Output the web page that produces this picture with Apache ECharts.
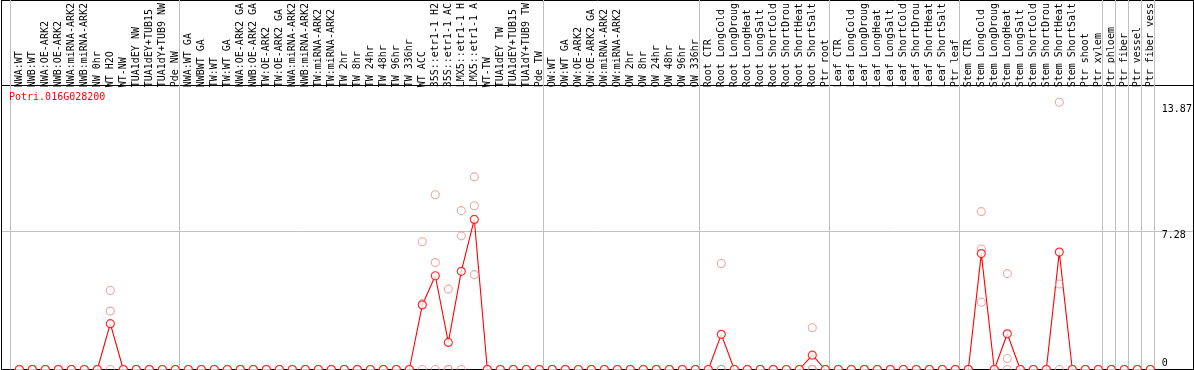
<!DOCTYPE html>
<html><head><meta charset="utf-8">
<script src="https://cdn.jsdelivr.net/npm/echarts@6/dist/echarts.min.js"></script>
<style>html,body{margin:0;padding:0;background:#fff;overflow:hidden}#c{width:1194px;height:370px}</style>
</head><body><div id="c"></div>
<script>
const geneName = 'Potri.016G028200';

const categories = [
  // group 1
  'NWA:WT','NWB:WT','NWA:OE-ARK2','NWB:OE-ARK2','NWA:miRNA-ARK2','NWB:miRNA-ARK2','NW 0hr','WT H2O','WT-NW','TUA1dEY NW','TUA1dEY+TUB15','TUA1dY+TUB9 NW','Pde NW',
  // group 2
  'NWA:WT GA','NWBWT GA','TW:WT','TW:WT GA','NWA:OE-ARK2 GA','NWB:OE-ARK2 GA','TW:OE-ARK2','TW:OE-ARK2 GA','NWA:miRNA-ARK2','NWB:miRNA-ARK2','TW:miRNA-ARK2','TW:miRNA-ARK2',
  'TW 2hr','TW 8hr','TW 24hr','TW 48hr','TW 96hr','TW 336hr','WT ACC','35S::etr1-1 H2','35S::etr1-1 AC','LMX5::etr1-1 H','LMX5::etr1-1 A','WT-TW','TUA1dEY TW','TUA1dEY+TUB15','TUA1dY+TUB9 TW','Pde TW',
  // group 3
  'OW:WT','OW:WT GA','OW:OE-ARK2','OW:OE-ARK2 GA','OW:miRNA-ARK2','OW:miRNA-ARK2','OW 2hr','OW 8hr','OW 24hr','OW 48hr','OW 96hr','OW 336hr',
  // group 4
  'Root CTR','Root LongCold','Root LongDroug','Root LongHeat','Root LongSalt','Root ShortCold','Root ShortDrou','Root ShortHeat','Root ShortSalt','Ptr root',
  // group 5
  'Leaf CTR','Leaf LongCold','Leaf LongDroug','Leaf LongHeat','Leaf LongSalt','Leaf ShortCold','Leaf ShortDrou','Leaf ShortHeat','Leaf ShortSalt','Ptr leaf',
  // group 6
  'Stem CTR','Stem LongCold','Stem LongDroug','Stem LongHeat','Stem LongSalt','Stem ShortCold','Stem ShortDrou','Stem ShortHeat','Stem ShortSalt','Ptr shoot','Ptr xylem',
  // singles
  'Ptr phloem','Ptr fiber','Ptr vessel','Ptr fiber vess'
];

const meanValues = [
  0,0,0,0,0,0,0,2.40,0,0,0,0,0,
  0,0,0,0,0,0,0,0,0,0,0,0,0,0,0,0,0,0,3.38,4.91,1.42,5.14,7.86,0,0,0,0,0,
  0,0,0,0,0,0,0,0,0,0,0,0,
  0,1.84,0,0,0,0,0,0,0.75,0,
  0,0,0,0,0,0,0,0,0,0,
  0,6.07,0,1.87,0,0,0,6.15,0,0,0,
  0,0,0,0
];

const rep1 = [
  0,0,0,0,0,0,0,4.14,0,0,0,0,0,
  0,0,0,0,0,0,0,0,0,0,0,0,0,0,0,0,0,0,6.69,9.15,4.21,8.32,10.09,0,0,0,0,0,
  0,0,0,0,0,0,0,0,0,0,0,0,
  0,5.55,0,0,0,0,0,0,2.19,0,
  0,0,0,0,0,0,0,0,0,0,
  0,8.27,0,5.02,0,0,0,14.0,0,0,0,
  0,0,0,0
];
const rep2 = [
  0,0,0,0,0,0,0,3.06,0,0,0,0,0,
  0,0,0,0,0,0,0,0,0,0,0,0,0,0,0,0,0,0,3.45,5.60,0,7.00,8.58,0,0,0,0,0,
  0,0,0,0,0,0,0,0,0,0,0,0,
  0,0,0,0,0,0,0,0,0,0,
  0,0,0,0,0,0,0,0,0,0,
  0,6.31,0,0.58,0,0,0,4.48,0,0,0,
  0,0,0,0
];
const rep3 = [
  0,0,0,0,0,0,0,0,0,0,0,0,0,
  0,0,0,0,0,0,0,0,0,0,0,0,0,0,0,0,0,0,0,0,0,0,4.97,0,0,0,0,0,
  0,0,0,0,0,0,0,0,0,0,0,0,
  0,0,0,0,0,0,0,0,0,0,
  0,0,0,0,0,0,0,0,0,0,
  0,3.52,0,0,0,0,0,0,0,0,0,
  0,0,0,0
];

const yTickValues = [13.87, 7.28, 0];
const yGridValues = [7.28];
const groupBreaks = [0, 13, 41, 53, 63, 73, 84, 85, 86, 87, 88];

// layout
const W = 1194, H = 370;
const band = 13;
const plotLeft = 12.8;
const plotTop = 100.9;
const zeroY = 369.5;
const sepLeft = 10.5;
const labelLineY = 85.5;
const FONT = 'DejaVu Sans Mono';
const RED = '#ff0000';
const PALE = '#ec9090';
const GRAY = '#c0c0c0';

const repPoints = [];
[rep1, rep2, rep3].forEach(r => r.forEach((v, i) => repPoints.push([i, v])));
const meanPoints = meanValues.map((v, i) => [i, v]);

const nCat = categories.length;
const chart = echarts.init(document.getElementById('c'), null, {renderer: 'canvas'});

const option = {
  animation: false,
  backgroundColor: '#ffffff',
  textStyle: {fontFamily: FONT},
  title: {
    text: geneName, left: 9, top: 92, padding: 0,
    textStyle: {color: RED, fontSize: 10, fontFamily: FONT, fontWeight: 'normal'}
  },
  grid: [
    {left: sepLeft, top: 0, width: band * nCat, height: zeroY, containLabel: false},
    {left: plotLeft, top: plotTop, width: band * nCat, height: zeroY - plotTop, containLabel: false}
  ],
  xAxis: [
    {type: 'value', gridIndex: 0, min: 0, max: nCat, show: false},
    {
      type: 'category', gridIndex: 1, data: categories, position: 'top',
      offset: plotTop - labelLineY, boundaryGap: true,
      axisLine: {show: false}, axisTick: {show: false}, splitLine: {show: false},
      axisLabel: {rotate: 90, interval: 0, margin: 2, fontFamily: FONT, fontSize: 10, color: '#000'}
    }
  ],
  yAxis: [
    {type: 'value', gridIndex: 0, min: 0, max: 1, show: false},
    {type: 'value', gridIndex: 1, min: 0, max: yTickValues[0], show: false}
  ],
  series: [
    {
      type: 'line', xAxisIndex: 0, yAxisIndex: 0, data: [], silent: true,
      showSymbol: false, z: 1,
      markLine: {
        silent: true, symbol: 'none', label: {show: false},
        lineStyle: {color: GRAY, width: 1, type: 'solid'},
        emphasis: {disabled: true},
        data: groupBreaks.map(b => ({xAxis: b}))
      }
    },
    {
      type: 'line', xAxisIndex: 1, yAxisIndex: 1, data: meanValues,
      showSymbol: false, silent: true, z: 2,
      lineStyle: {color: RED, width: 1.1}
    },
    {
      type: 'scatter', xAxisIndex: 1, yAxisIndex: 1, data: repPoints, clip: false,
      symbol: 'circle', symbolSize: 8, silent: true, z: 4,
      itemStyle: {color: 'rgba(255,255,255,0)', borderColor: PALE, borderWidth: 1.1}
    },
    {
      type: 'scatter', xAxisIndex: 1, yAxisIndex: 1, data: meanPoints, clip: false,
      symbol: 'circle', symbolSize: 8, silent: true, z: 5,
      itemStyle: {color: '#ffffff', borderColor: RED, borderWidth: 1.2}
    }
  ]
};
chart.setOption(option);

// frame, grid lines and y labels placed through the y scale
const yPix = v => chart.convertToPixel({yAxisIndex: 1}, v);
const plotRight = plotLeft + band * nCat;
const graphics = [
  {type: 'line', z: 3, shape: {x1: 1, y1: 0.5, x2: W, y2: 0.5}, style: {stroke: '#000', lineWidth: 1}},
  {type: 'line', z: 3, shape: {x1: 1, y1: labelLineY, x2: W, y2: labelLineY}, style: {stroke: '#000', lineWidth: 1}},
  {type: 'line', z: 3, shape: {x1: 1.5, y1: 0, x2: 1.5, y2: H}, style: {stroke: '#000', lineWidth: 1}},
  {type: 'line', z: 3, shape: {x1: W - 0.5, y1: 0, x2: W - 0.5, y2: H}, style: {stroke: '#000', lineWidth: 1}},
  {type: 'line', z: 3, shape: {x1: 1, y1: zeroY, x2: W, y2: zeroY}, style: {stroke: '#000', lineWidth: 1}}
];
yGridValues.forEach(v => {
  const y = Math.round(yPix(v)) + 0.5;
  graphics.push({type: 'line', z: 0, shape: {x1: 2, y1: y, x2: W - 1, y2: y}, style: {stroke: GRAY, lineWidth: 1}});
});
yTickValues.forEach(v => {
  const y = yPix(v);
  const isZero = v === 0;
  graphics.push({
    type: 'text', z: 6, x: plotRight + 5, y: isZero ? y - 1.5 : y,
    style: {text: String(v), fill: '#000', font: '10px "' + FONT + '"', textAlign: 'left', textVerticalAlign: isZero ? 'bottom' : 'top'}
  });
});
chart.setOption({graphic: {elements: graphics}});
</script>
</body></html>
